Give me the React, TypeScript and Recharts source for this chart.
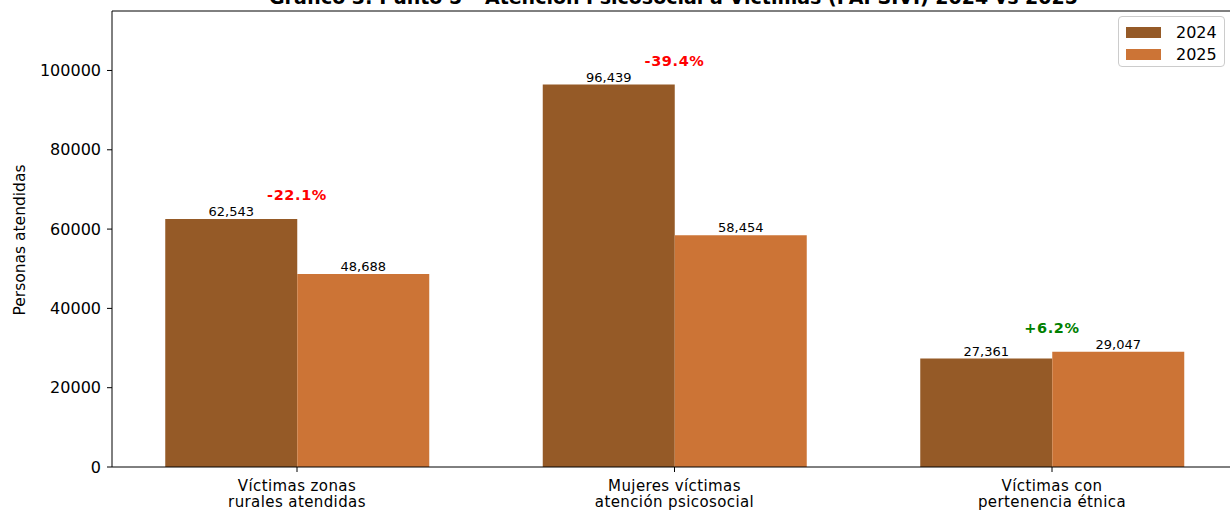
import { ComposedChart, Bar, Line, XAxis, YAxis, Legend, LabelList, ReferenceLine, Customized } from 'recharts';

const CATEGORIES = [
  ['Víctimas zonas', 'rurales atendidas'],
  ['Mujeres víctimas', 'atención psicosocial'],
  ['Víctimas con', 'pertenencia étnica'],
];
const VALUES_2024 = [62543, 96439, 27361];
const VALUES_2025 = [48688, 58454, 29047];
const CHANGE_LABELS = ['-22.1%', '-39.4%', '+6.2%'];
const CHANGE_COLORS = ['#ff0000', '#ff0000', '#008000'];
const Y_TICKS = [0, 20000, 40000, 60000, 80000, 100000];
const X_TICKS = [0, 1, 2];

const TITLE = 'Gráfico 3: Punto 5 – Atención Psicosocial a Víctimas (PAPSIVI) 2024 vs 2025';
const FONT = '"DejaVu Sans", sans-serif';
const C2024 = '#955a27';
const C2025 = '#cc7436';

const data = CATEGORIES.map((_, i) => ({
  idx: i,
  v2024: VALUES_2024[i],
  v2025: VALUES_2025[i],
  pctPos: Math.max(VALUES_2024[i], VALUES_2025[i]) + 4700,
  pct: CHANGE_LABELS[i],
}));

const fmt = (v: number) => v.toLocaleString('en-US');

function CategoryTick({ x, y, payload }: any) {
  const lines = CATEGORIES[payload.value] ?? [];
  return (
    <text x={x} y={y} textAnchor="middle" fontSize={15} letterSpacing={0.4} fontFamily={FONT} fill="#000">
      {lines.map((l, i) => (
        <tspan key={l} x={x} y={y + 19 + i * 16}>
          {l}
        </tspan>
      ))}
    </text>
  );
}

function LegendBox() {
  const items = [
    { label: '2024', color: C2024 },
    { label: '2025', color: C2025 },
  ];
  return (
    <div
      style={{
        boxSizing: 'border-box',
        width: 107,
        height: 51,
        border: '1px solid #cccccc',
        borderRadius: 4,
        background: 'rgba(255,255,255,0.8)',
        padding: '4px 0 0 7px',
        fontFamily: FONT,
        fontSize: 16,
        color: '#000',
      }}
    >
      {items.map((it) => (
        <div key={it.label} style={{ display: 'flex', alignItems: 'center', height: 22 }}>
          <span style={{ display: 'inline-block', width: 35, height: 11, background: it.color, marginRight: 15 }} />
          <span>{it.label}</span>
        </div>
      ))}
    </div>
  );
}

export default function App() {
  return (
    <div style={{ position: 'absolute', left: 0, top: 0, width: 1230, height: 510, background: '#fff' }}>
      <ComposedChart width={1230} height={510} data={data} margin={{ top: 11, right: 0, bottom: 0, left: 0 }} barGap={0}>
        <XAxis
          dataKey="idx"
          type="number"
          domain={[-0.49007, 2.47152]}
          ticks={X_TICKS}
          tick={<CategoryTick />}
          height={43}
          tickSize={5}
          tickMargin={0}
          axisLine={{ stroke: '#000' }}
          tickLine={{ stroke: '#000' }}
          interval={0}
        />
        <YAxis
          type="number"
          domain={[0, 115000]}
          ticks={Y_TICKS}
          width={112}
          tickSize={5}
          tickMargin={6}
          axisLine={{ stroke: '#000' }}
          tickLine={{ stroke: '#000' }}
          tick={{ fontSize: 16, fontFamily: FONT, fill: '#000' }}
          tickFormatter={(v: number) => String(v)}
        />
        <ReferenceLine y={115000} stroke="#000" ifOverflow="visible" />
        <Bar dataKey="v2024" name="2024" fill={C2024} barSize={132} isAnimationActive={false}>
          <LabelList dataKey="v2024" position="top" offset={3} formatter={fmt} fontSize={13} fontFamily={FONT} fill="#000" />
        </Bar>
        <Bar dataKey="v2025" name="2025" fill={C2025} barSize={132} isAnimationActive={false}>
          <LabelList dataKey="v2025" position="top" offset={3} formatter={fmt} fontSize={13} fontFamily={FONT} fill="#000" />
        </Bar>
        <Line
          dataKey="pctPos"
          stroke="none"
          dot={false}
          activeDot={false}
          legendType="none"
          isAnimationActive={false}
        >
          <LabelList
            dataKey="pct"
            content={(p: any) => (
              <text
                x={p.x}
                y={p.y}
                textAnchor="middle"
                fontSize={14.5}
                letterSpacing={0.6}
                fontWeight="bold"
                fontFamily={FONT}
                fill={CHANGE_COLORS[p.index]}
              >
                {p.value}
              </text>
            )}
          />
        </Line>
        <Legend
          layout="horizontal"
          align="center"
          verticalAlign="middle"
          content={<LegendBox />}
          wrapperStyle={{ left: 1118, top: 16, width: 107, height: 51 }}
        />
        <Customized
          component={() => (
            <g>
              <text x={673.5} y={3.5} textAnchor="middle" fontSize={19} fontWeight="bold" fontFamily={FONT} fill="#000">
                {TITLE}
              </text>
              <text
                transform="translate(25,240) rotate(-90)"
                textAnchor="middle"
                fontSize={15.5}
                fontFamily={FONT}
                fill="#000"
              >
                Personas atendidas
              </text>
            </g>
          )}
        />
      </ComposedChart>
    </div>
  );
}
